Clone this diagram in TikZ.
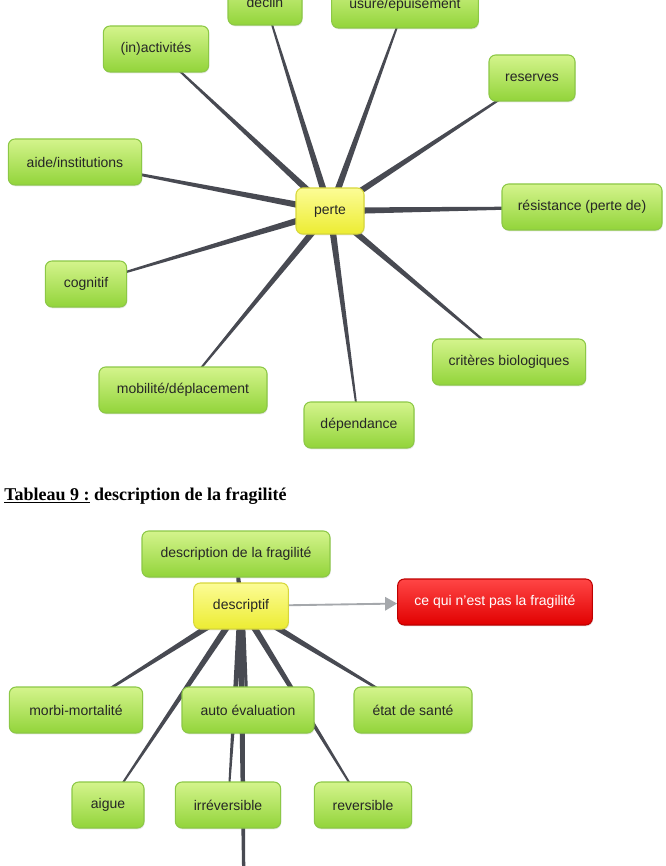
\documentclass[tikz,border=0pt]{standalone}
\usepackage{fontspec}
\setmainfont{Liberation Sans}
\newfontfamily\capfont{Liberation Serif}
\usepackage{xcolor}
\usepackage{tikz}
\usetikzlibrary{calc,arrows.meta,shadows,backgrounds}

\definecolor{greentop}{RGB}{212,244,140}
\definecolor{greenbot}{RGB}{146,212,58}
\definecolor{greenline}{RGB}{140,200,70}
\definecolor{yellowtop}{RGB}{252,252,150}
\definecolor{yellowbot}{RGB}{236,236,50}
\definecolor{yellowline}{RGB}{215,215,60}
\definecolor{redtop}{RGB}{255,70,70}
\definecolor{redbot}{RGB}{225,0,0}
\definecolor{redline}{RGB}{190,0,0}
\definecolor{spokegray}{RGB}{72,74,82}
\definecolor{arrowgray}{RGB}{165,168,172}

% rayon effile du centre vers la feuille
\newcommand{\spoke}[2]{%
  \fill[spokegray] ($(#1.center)!2.6pt!90:(#2.center)$)
    -- ($(#2.center)!0.5pt!-90:(#1.center)$)
    -- ($(#2.center)!0.5pt!90:(#1.center)$)
    -- ($(#1.center)!2.6pt!-90:(#2.center)$) -- cycle;}

\begin{document}
\begin{tikzpicture}[x=0.75pt,y=-0.75pt,
    box/.style={rounded corners=5pt,draw=greenline,line width=0.8pt,
      top color=greentop,bottom color=greenbot,text=black!85,
      minimum height=34.5pt,inner sep=2pt,font=\fontsize{10.5}{12}\selectfont,
      drop shadow={shadow xshift=0.5pt,shadow yshift=-1pt,opacity=0.2}},
    hub/.style={box,draw=yellowline,top color=yellowtop,bottom color=yellowbot},
    redbox/.style={box,draw=redline,top color=redtop,bottom color=redbot,text=white}]

  \useasboundingbox (0,0) rectangle (666,866);
  \clip (0,0) rectangle (666,866);

  % carte : perte
  \node[hub,minimum width=51pt] (perte) at (330,211) {perte};
  \node[box,minimum width=55.5pt] (declin) at (265,2) {déclin};
  \node[box,minimum width=110pt] (usure) at (405,5) {usure/épuisement};
  \node[box,minimum width=79pt] (inact) at (156,49) {(in)activités};
  \node[box,minimum width=64.5pt] (reserves) at (532,78) {reserves};
  \node[box,minimum width=100pt] (aide) at (75,162) {aide/institutions};
  \node[box,minimum width=120pt] (resist) at (582,207) {résistance (perte de)};
  \node[box,minimum width=61pt] (cognitif) at (86,284) {cognitif};
  \node[box,minimum width=115pt] (criteres) at (509,362) {critères biologiques};
  \node[box,minimum width=126pt] (mobilite) at (183,390) {mobilité/déplacement};
  \node[box,minimum width=82.5pt] (dependance) at (359,425) {dépendance};

  \begin{pgfonlayer}{background}
    \foreach \leaf in {declin,usure,inact,reserves,aide,resist,cognitif,criteres,mobilite,dependance}
      {\spoke{perte}{\leaf}}
  \end{pgfonlayer}

  % legende
  \node[anchor=west,inner sep=0pt,font=\capfont\bfseries\fontsize{13.5}{16}\selectfont] (legende) at (4,496)
    {\underline{Tableau 9 :} description de la fragilité};

  % carte : descriptif
  \node[box,minimum width=141pt] (descfrag) at (236,554) {description de la fragilité};
  \node[hub,minimum width=71pt] (descriptif) at (241,606) {descriptif};
  \node[redbox,minimum width=146pt] (pasfrag) at (495,602) {ce qui n'est pas la fragilité};
  \node[box,minimum width=100pt] (morbi) at (76,710) {morbi-mortalité};
  \node[box,minimum width=99pt] (autoeval) at (248,710) {auto évaluation};
  \node[box,minimum width=88.5pt] (etat) at (413,710) {état de santé};
  \node[box,minimum width=54pt] (aigue) at (108,805) {aigue};
  \node[box,minimum width=79pt] (irrev) at (228,805) {irréversible};
  \node[box,minimum width=73pt] (rever) at (363,805) {reversible};
  \coordinate (horspage) at (245,1000);

  \begin{pgfonlayer}{background}
    \foreach \leaf in {descfrag,morbi,autoeval,etat,aigue,irrev,rever,horspage}
      {\spoke{descriptif}{\leaf}}
  \end{pgfonlayer}

  \draw[arrowgray,line width=1.4pt,-{Triangle[length=9pt,width=10pt]}] (descriptif) -- (pasfrag);
\end{tikzpicture}
\end{document}
